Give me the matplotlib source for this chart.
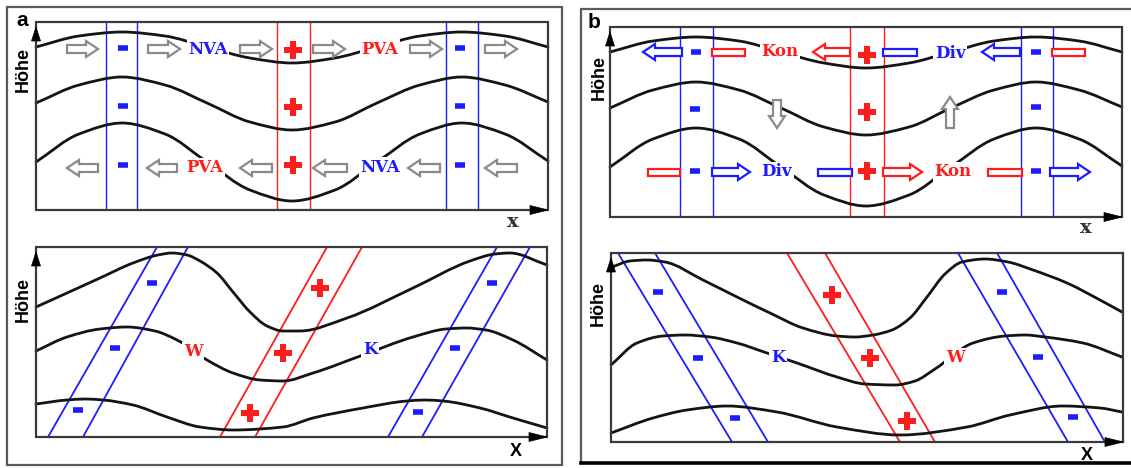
import matplotlib
matplotlib.use("Agg")
import matplotlib.pyplot as plt
import numpy as np
from matplotlib.path import Path
from matplotlib.patches import PathPatch, Polygon, Rectangle

# ---------------- data (pixel space) ----------------
# upper panels: three height contours
a_top_x = [36, 79, 122, 165, 207, 250, 292, 335, 377, 420, 462, 505, 548]
a_top_y1 = [47, 36, 32, 36, 47, 58, 63, 58, 47, 36, 32, 36, 47]
a_top_y2 = [103, 85, 77, 85, 103, 122, 130, 122, 103, 85, 77, 85, 102]
a_top_y3 = [162, 134, 123, 134, 162, 190, 201, 190, 162, 134, 123, 134, 161]
b_top_x = [610, 653, 696, 739, 781, 824, 866, 909, 951, 994, 1036, 1079, 1122]
b_top_y1 = [52, 41, 37, 41, 52, 63, 68, 63, 52, 41, 37, 41, 52]
b_top_y2 = [108, 90, 82, 90, 108, 127, 135, 127, 108, 90, 82, 90, 107]
b_top_y3 = [167, 139, 128, 139, 167, 195, 206, 195, 167, 139, 128, 139, 166]

# lower panels: three height contours
a_bot_x1 = [36, 67, 100, 133, 158, 172, 187, 200, 217, 233, 250, 267, 283, 300, 347, 413, 470, 495, 510, 547]
a_bot_y1 = [307, 293, 278, 263, 255, 253, 255, 261, 273, 292, 312, 326, 331, 331, 318, 288, 261, 254, 253, 265]
a_bot_x2 = [36, 67, 100, 127, 155, 177, 207, 233, 260, 283, 313, 363, 413, 446, 466, 486, 513, 547]
a_bot_y2 = [351, 337, 329, 327, 331, 340, 360, 373, 380, 381, 373, 355, 337, 329, 328, 330, 340, 360]
a_bot_x3 = [36, 67, 85, 103, 133, 167, 200, 233, 283, 313, 363, 407, 425, 443, 480, 513, 547]
a_bot_y3 = [404, 400, 399, 400, 405, 417, 427, 430, 427, 418, 408, 401, 400, 401, 408, 418, 428]
b_bot_x1 = [612, 630, 647, 665, 703, 737, 770, 803, 837, 855, 873, 892, 910, 927, 945, 962, 985, 1008, 1033, 1067, 1100, 1122]
b_bot_y1 = [267, 261, 260, 262, 280, 297, 313, 328, 336, 337, 335, 330, 318, 297, 274, 262, 259, 262, 270, 283, 300, 312]
b_bot_x2 = [611, 637, 663, 685, 710, 737, 767, 797, 837, 865, 895, 915, 935, 973, 1005, 1025, 1045, 1083, 1122]
b_bot_y2 = [365, 343, 336, 335, 337, 343, 353, 363, 377, 384, 385, 381, 369, 343, 336, 335, 337, 343, 357]
b_bot_x3 = [611, 653, 687, 727, 777, 837, 900, 967, 1010, 1063, 1100, 1122]
b_bot_y3 = [433, 418, 410, 406, 412, 427, 435, 427, 415, 406, 408, 412]

# vertical zone lines (upper panels)
a_top_blue_x = [106, 137, 446, 478]
a_top_red_x = [277, 310]
b_top_blue_x = [680, 713, 1021, 1053]
b_top_red_x = [850, 884]
# slanted zone lines (lower panels): x at bottom, x at top
a_bot_blue_xb = [48, 83, 388, 422]
a_bot_blue_xt = [157, 188, 497, 530]
a_bot_red_xb = [220, 255]
a_bot_red_xt = [327, 362]
b_bot_blue_xb = [732, 768, 1068, 1105]
b_bot_blue_xt = [618, 655, 958, 997]
b_bot_red_xb = [900, 935]
b_bot_red_xt = [787, 825]

# plus / minus symbols
minus_x = [123, 123, 123, 460, 460, 460, 696, 695, 695, 1036, 1036, 1036,
           152, 115, 78, 492, 455, 418, 658, 698, 735, 1002, 1038, 1073]
minus_y = [48, 106, 165, 48, 106, 165, 52, 109, 171, 52, 107, 171,
           283, 348, 410, 283, 348, 412, 292, 358, 418, 292, 357, 417]
plus_x = [293, 293, 293, 867, 867, 867, 320, 283, 250, 832, 870, 907]
plus_y = [50, 107, 165, 55, 112, 171, 288, 353, 413, 295, 358, 421]

# word labels
word_text = ["NVA", "PVA", "PVA", "NVA", "Kon", "Div", "Div", "Kon", "W", "K", "K", "W"]
word_x = [208, 380, 205, 380, 780, 950, 777, 953, 193, 370, 778, 955]
word_y = [49, 49, 168, 167, 52, 53, 172, 172, 352, 350, 357, 358]
word_col = ["b", "r", "r", "b", "r", "b", "b", "r", "r", "b", "b", "r"]

# horizontal hollow arrows: tail x, head x, y, colour
arr_tail = [67, 148, 240, 313, 410, 485, 98, 177, 272, 347, 440, 517,
            682, 1020, 850, 712, 1050, 883]
arr_head = [98, 180, 272, 345, 442, 517, 67, 147, 240, 313, 408, 485,
            643, 982, 813, 750, 1090, 922]
arr_y = [49] * 6 + [168] * 6 + [52, 52, 52, 172, 172, 172]
arr_col = ["g"] * 12 + ["b", "b", "r", "b", "b", "r"]
# vertical hollow arrows (panel b): x, tail y, head y
varr_x = [777, 950]
varr_tail = [100, 128]
varr_head = [128, 97]
# hollow bars (panel b)
bar_x0 = [712, 1052, 883, 648, 988, 818]
bar_x1 = [745, 1085, 917, 680, 1022, 852]
bar_y = [52, 52, 52, 172, 172, 172]
bar_col = ["r", "r", "b", "r", "r", "b"]

# plotting boxes: left, top, right, bottom
box_l = [36, 36, 610, 611]
box_t = [22, 247, 27, 253]
box_r = [548, 547, 1122, 1123]
box_b = [210, 437, 217, 442]

# ---------------- drawing ----------------
RED = "#ff1c1c"
BLUE = "#1c1cff"
GREY = "#8a8a8a"
COL = {"r": RED, "b": BLUE, "g": GREY}

W, H = 1131, 468
fig = plt.figure(figsize=(W / 100, H / 100), dpi=100)
ax = fig.add_axes([0, 0, 1, 1])
ax.set_xlim(0, W)
ax.set_ylim(H, 0)
ax.axis("off")


def smooth(xs, ys):
    xs = np.asarray(xs, float)
    ys = np.asarray(ys, float)
    h = np.diff(xs)
    d = np.diff(ys) / h
    n = len(xs)
    m = np.zeros(n)
    m[0], m[-1] = d[0], d[-1]
    for i in range(1, n - 1):
        if d[i - 1] * d[i] > 0:
            w1 = 2 * h[i] + h[i - 1]
            w2 = h[i] + 2 * h[i - 1]
            m[i] = (w1 + w2) / (w1 / d[i - 1] + w2 / d[i])
    verts = [(xs[0], ys[0])]
    codes = [Path.MOVETO]
    for i in range(n - 1):
        verts += [(xs[i] + h[i] / 3, ys[i] + m[i] * h[i] / 3),
                  (xs[i + 1] - h[i] / 3, ys[i + 1] - m[i + 1] * h[i] / 3),
                  (xs[i + 1], ys[i + 1])]
        codes += [Path.CURVE4] * 3
    return Path(verts, codes)


curves = [(a_top_x, a_top_y1), (a_top_x, a_top_y2), (a_top_x, a_top_y3),
          (b_top_x, b_top_y1), (b_top_x, b_top_y2), (b_top_x, b_top_y3),
          (a_bot_x1, a_bot_y1), (a_bot_x2, a_bot_y2), (a_bot_x3, a_bot_y3),
          (b_bot_x1, b_bot_y1), (b_bot_x2, b_bot_y2), (b_bot_x3, b_bot_y3)]
for cx, cy in curves:
    ax.add_patch(PathPatch(smooth(cx, cy), fc="none", ec="#141414", lw=2.0,
                           zorder=2, capstyle="round"))

# vertical zone lines
for xs, col, (t, b) in [(a_top_blue_x, BLUE, (22, 210)), (a_top_red_x, RED, (22, 210)),
                        (b_top_blue_x, BLUE, (27, 217)), (b_top_red_x, RED, (27, 217))]:
    ax.vlines(xs, t, b, colors=col, lw=1.0, zorder=1)

# slanted zone lines
for xb, xt, col, (t, b) in [(a_bot_blue_xb, a_bot_blue_xt, BLUE, (247, 437)),
                            (a_bot_red_xb, a_bot_red_xt, RED, (247, 437)),
                            (b_bot_blue_xb, b_bot_blue_xt, BLUE, (253, 442)),
                            (b_bot_red_xb, b_bot_red_xt, RED, (253, 442))]:
    for x0, x1 in zip(xb, xt):
        ax.plot([x0, x1], [b, t], color=col, lw=1.3, zorder=1)

# hollow horizontal arrows
for xt_, xh, y, c in zip(arr_tail, arr_head, arr_y, arr_col):
    d = 1 if xh > xt_ else -1
    s, hh, L = 4.0, 8.0, 12.0
    pts = [(xt_, y - s), (xh - d * L, y - s), (xh - d * L, y - hh), (xh, y),
           (xh - d * L, y + hh), (xh - d * L, y + s), (xt_, y + s)]
    ax.add_patch(Polygon(pts, closed=True, fc="white", ec=COL[c], lw=1.6,
                         zorder=3, joinstyle="miter"))

# hollow vertical arrows
for x, yt, yh in zip(varr_x, varr_tail, varr_head):
    d = 1 if yh > yt else -1
    s, hh, L = 4.0, 8.0, 12.0
    pts = [(x - s, yt), (x - s, yh - d * L), (x - hh, yh - d * L), (x, yh),
           (x + hh, yh - d * L), (x + s, yh - d * L), (x + s, yt)]
    ax.add_patch(Polygon(pts, closed=True, fc="white", ec=GREY, lw=1.6,
                         zorder=3, joinstyle="miter"))

# hollow bars
for x0, x1, y, c in zip(bar_x0, bar_x1, bar_y, bar_col):
    ax.add_patch(Rectangle((x0, y - 3.5), x1 - x0, 7, fc="white", ec=COL[c],
                           lw=1.6, zorder=3))

# plus / minus
ax.plot(minus_x, minus_y, ls="none", marker="_", ms=7.5, mew=4.0, color=BLUE, zorder=4)
ax.plot(plus_x, plus_y, ls="none", marker="P", ms=13, mew=0, color=RED, zorder=4)

# word labels
for t, x, y, c in zip(word_text, word_x, word_y, word_col):
    ax.text(x, y, t, color=COL[c], fontsize=12, fontweight="bold",
            family="DejaVu Serif", ha="center", va="center", zorder=4,
            bbox=dict(boxstyle="square,pad=0.08", fc="white", ec="none"))

# boxes with axis arrows
for l, t, r, b in zip(box_l, box_t, box_r, box_b):
    ax.add_patch(Rectangle((l, t), r - l, b - t, fc="none", ec="#3a3a3a",
                           lw=1.6, zorder=5))
    ax.add_patch(Polygon([(l, t + 5), (l - 4.5, t + 19), (l + 4.5, t + 19)],
                         closed=True, fc="black", ec="black", lw=0.5, zorder=6))
    ax.add_patch(Polygon([(r, b), (r - 18, b - 4.5), (r - 18, b + 4.5)],
                         closed=True, fc="black", ec="black", lw=0.5, zorder=6))

# axis labels
for x, y in [(23, 70), (599, 78), (23, 300), (598, 304)]:
    ax.text(x, y, "Höhe", rotation=90, ha="center", va="center", fontsize=13,
            fontweight="bold", family="Liberation Sans", zorder=6)
for x, y, t in [(513, 222, "x"), (1086, 228, "x")]:
    ax.text(x, y, t, ha="center", va="center", fontsize=14, fontweight="bold",
            family="DejaVu Serif", color="#333333", zorder=6)
for x, y, t in [(516, 452, "X"), (1087, 455, "X")]:
    ax.text(x, y, t, ha="center", va="center", fontsize=13, fontweight="bold",
            family="Liberation Sans", zorder=6)

# panel letters
ax.text(22, 21, "a", ha="center", va="center", fontsize=15, fontweight="bold",
        family="Liberation Sans", zorder=6)
ax.text(594, 23, "b", ha="center", va="center", fontsize=15, fontweight="bold",
        family="Liberation Sans", zorder=6)

# outer frames
ax.add_patch(Rectangle((7, 7), 555, 458, fc="none", ec="#5a5a5a", lw=1.6, zorder=5))
ax.plot([1135, 581, 581], [9, 9, 463], color="#5a5a5a", lw=1.6, zorder=5)
ax.plot([581, 1135], [463, 463], color="black", lw=2.6, zorder=5)

fig.savefig("out.png", dpi=100, facecolor="white")
